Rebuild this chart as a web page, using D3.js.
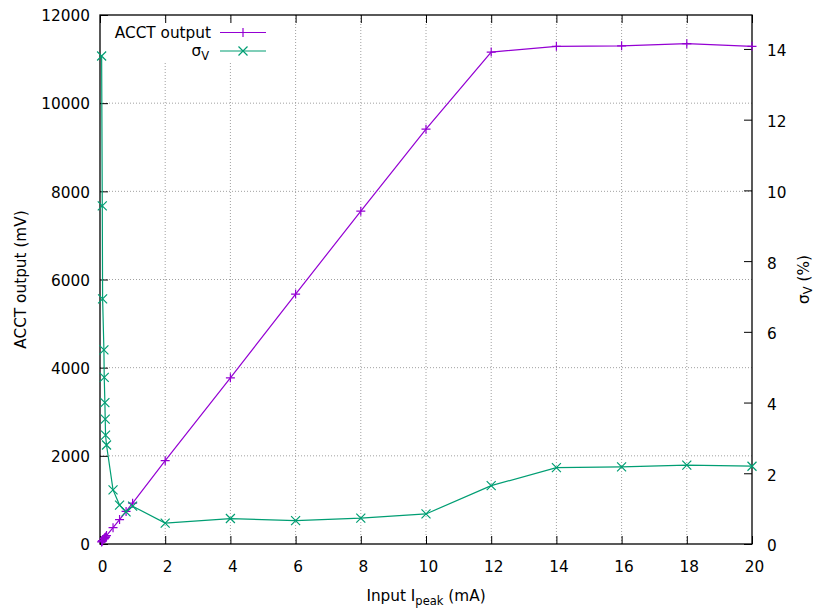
<!DOCTYPE html>
<html>
<head>
<meta charset="utf-8">
<script src="https://cdn.jsdelivr.net/npm/d3@7"></script>
<style>
  body { margin: 0; background: #fff; }
  svg text { font-family: "DejaVu Sans", sans-serif; font-size: 15.3px; fill: #000; }
</style>
</head>
<body>
<svg id="chart" width="814" height="610"></svg>
<script>
// input current (mA), shared by both series
var inputMA = [0.05, 0.07, 0.08, 0.12, 0.13, 0.15, 0.16, 0.17, 0.2, 0.4, 0.6, 0.8, 1,
               2, 4, 6, 8, 10, 12, 14, 16, 18, 20];
// ACCT output (mV), left axis
var acctMV = [47, 66, 76, 113, 122, 141, 150, 160, 190, 370, 555, 740, 925,
              1890, 3770, 5670, 7550, 9410, 11160, 11290, 11300, 11350, 11290];
// sigma V (%), right axis
var sigmaV = [13.80, 9.56, 6.93, 5.49, 4.71, 4.00, 3.53, 3.08, 2.80, 1.53, 1.10, 0.91, 1.07,
              0.59, 0.72, 0.66, 0.73, 0.85, 1.65, 2.16, 2.18, 2.23, 2.20];

var xTicks = [0, 2, 4, 6, 8, 10, 12, 14, 16, 18, 20];
var yTicks = [0, 2000, 4000, 6000, 8000, 10000, 12000];
var y2Ticks = [0, 2, 4, 6, 8, 10, 12, 14];

// plot box (window.top is reserved, hence the p prefix)
var pLeft = 100, pRight = 752, pTop = 15, pBottom = 544;
var purple = "#9400d3", green = "#009e73";

var svg = d3.select("#chart");

var x = d3.scaleLinear().domain([0, 20]).range([pLeft, pRight]);
var y = d3.scaleLinear().domain([0, 12000]).range([pBottom, pTop]);
var y2 = d3.scaleLinear().domain([0, 14.96]).range([pBottom, pTop]);

// grid
var grid = svg.append("g")
    .attr("stroke", "#a0a0a0")
    .attr("stroke-width", 1)
    .attr("stroke-dasharray", "1,2");
grid.selectAll(".gx")
    .data(xTicks.filter(function(d) { return d > 0 && d < 20; }))
    .enter().append("line")
    .attr("x1", function(d) { return x(d); })
    .attr("x2", function(d) { return x(d); })
    .attr("y1", pTop).attr("y2", pBottom);
grid.selectAll(".gy")
    .data(yTicks.filter(function(d) { return d > 0 && d < 12000; }))
    .enter().append("line")
    .attr("y1", function(d) { return y(d); })
    .attr("y2", function(d) { return y(d); })
    .attr("x1", pLeft).attr("x2", pRight);

// opaque key background
svg.append("rect")
    .attr("x", 105).attr("y", 20)
    .attr("width", 167).attr("height", 42)
    .attr("fill", "#fff");

// axes
var xAxis = svg.append("g")
    .attr("transform", "translate(0," + pBottom + ")")
    .call(d3.axisBottom(x).tickValues(xTicks).tickSizeInner(-8).tickSizeOuter(0));
xAxis.selectAll("text").attr("dy", null).attr("y", 27.5).attr("x", 2);

svg.append("g")
    .attr("transform", "translate(0," + pTop + ")")
    .call(d3.axisTop(x).tickValues(xTicks).tickSizeInner(-8).tickSizeOuter(0).tickFormat(""));

var yAxis = svg.append("g")
    .attr("transform", "translate(" + pLeft + ",0)")
    .call(d3.axisLeft(y).tickValues(yTicks).tickSizeInner(-8).tickSizeOuter(0).tickFormat(d3.format("d")));
yAxis.selectAll("text").attr("x", -10).attr("dy", "0.37em");

var y2Axis = svg.append("g")
    .attr("transform", "translate(" + pRight + ",0)")
    .call(d3.axisRight(y2).tickValues(y2Ticks).tickSizeInner(-8).tickSizeOuter(0));
y2Axis.selectAll("text").attr("x", 15).attr("dy", "0.45em");

svg.selectAll(".domain").remove();
svg.selectAll(".tick line").attr("stroke", "#000");
svg.selectAll("g").attr("font-size", null).attr("font-family", null);

// border
svg.append("rect")
    .attr("x", pLeft).attr("y", pTop)
    .attr("width", pRight - pLeft).attr("height", pBottom - pTop)
    .attr("fill", "none").attr("stroke", "#000").attr("stroke-width", 1.3);

// data
var pts = inputMA.map(function(d, i) { return {x: d, a: acctMV[i], s: sigmaV[i]}; });
var plusPath = "M-4.5,0H4.5M0,-4.5V4.5";
var crossPath = "M-4.5,-4.5L4.5,4.5M-4.5,4.5L4.5,-4.5";

svg.append("path")
    .datum(pts)
    .attr("fill", "none").attr("stroke", purple).attr("stroke-width", 1.2)
    .attr("d", d3.line().x(function(d) { return x(d.x); }).y(function(d) { return y(d.a); }));
svg.selectAll(".pa")
    .data(pts).enter().append("path")
    .attr("transform", function(d) { return "translate(" + x(d.x) + "," + y(d.a) + ")"; })
    .attr("d", plusPath).attr("stroke", purple).attr("stroke-width", 1.2);

svg.append("path")
    .datum(pts)
    .attr("fill", "none").attr("stroke", green).attr("stroke-width", 1.2)
    .attr("d", d3.line().x(function(d) { return x(d.x); }).y(function(d) { return y2(d.s); }));
svg.selectAll(".ps")
    .data(pts).enter().append("path")
    .attr("transform", function(d) { return "translate(" + x(d.x) + "," + y2(d.s) + ")"; })
    .attr("d", crossPath).attr("stroke", green).attr("stroke-width", 1.2);

// key
svg.append("text").attr("x", 211).attr("y", 38).attr("text-anchor", "end").text("ACCT output");
svg.append("line").attr("x1", 220).attr("x2", 266).attr("y1", 32.5).attr("y2", 32.5)
    .attr("stroke", purple).attr("stroke-width", 1.2);
svg.append("path").attr("transform", "translate(243,32.5)").attr("d", plusPath)
    .attr("stroke", purple).attr("stroke-width", 1.2);

var sk = svg.append("text").attr("x", 209).attr("y", 56).attr("text-anchor", "end");
sk.append("tspan").text("σ");
sk.append("tspan").attr("font-size", "11.5px").attr("dy", 4).text("V");
svg.append("line").attr("x1", 220).attr("x2", 266).attr("y1", 51).attr("y2", 51)
    .attr("stroke", green).attr("stroke-width", 1.2);
svg.append("path").attr("transform", "translate(243,51)").attr("d", crossPath)
    .attr("stroke", green).attr("stroke-width", 1.2);

// axis titles
svg.append("text")
    .attr("transform", "translate(26," + (pTop + pBottom) / 2 + ") rotate(-90)")
    .attr("text-anchor", "middle")
    .text("ACCT output (mV)");

var t2 = svg.append("text")
    .attr("transform", "translate(808.5," + (pTop + pBottom) / 2 + ") rotate(-90)")
    .attr("text-anchor", "middle");
t2.append("tspan").text("σ");
t2.append("tspan").attr("font-size", "11.5px").attr("dy", 3).text("V");
t2.append("tspan").attr("dy", -3).text(" (%)");

var xt = svg.append("text")
    .attr("x", (pLeft + pRight) / 2).attr("y", 601)
    .attr("text-anchor", "middle");
xt.append("tspan").text("Input I");
xt.append("tspan").attr("font-size", "11.5px").attr("dy", 4).text("peak");
xt.append("tspan").attr("dy", -4).text(" (mA)");
</script>
</body>
</html>
